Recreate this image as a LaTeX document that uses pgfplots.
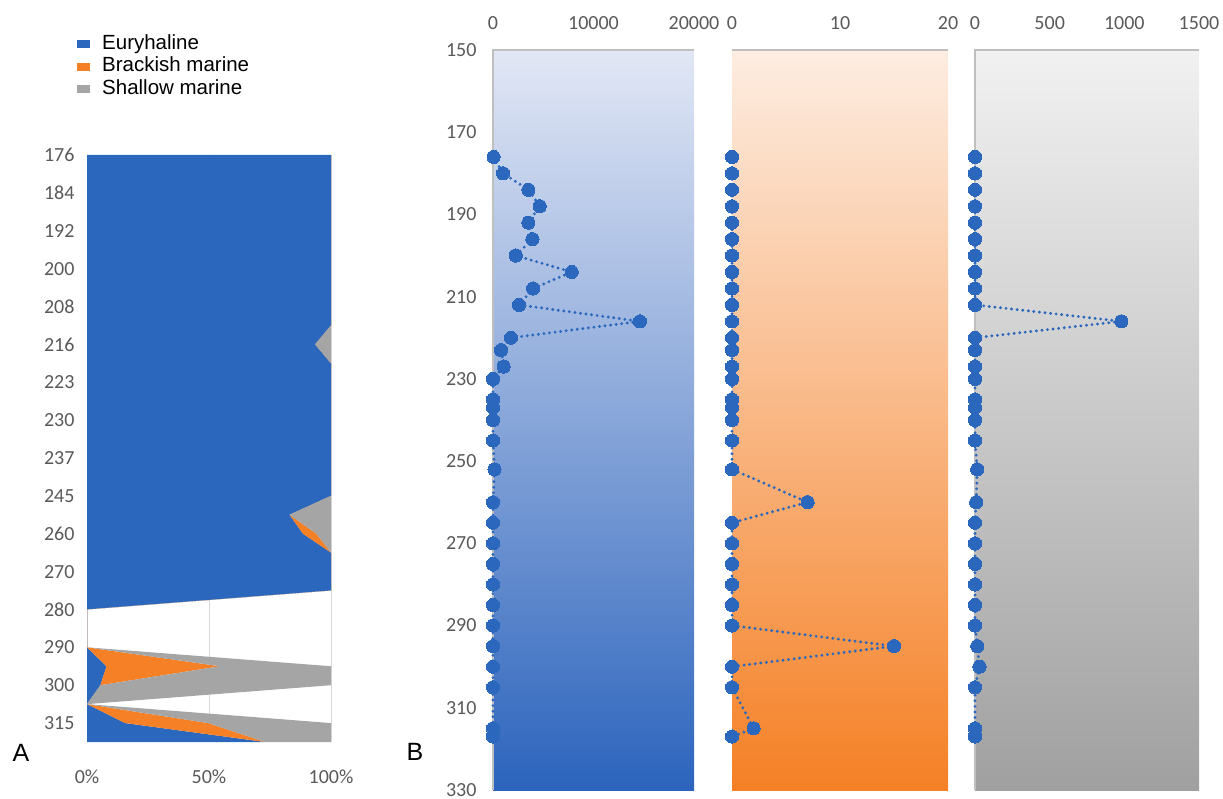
\documentclass[border=0pt]{standalone}
\usepackage{fontspec}
\setmainfont{Carlito}
\newfontfamily\arial{Liberation Sans}
\usepackage{pgfplots}
\usepackage{pgfplotstable}
\pgfplotsset{compat=1.18}
\definecolor{eblue}{RGB}{42,103,189}
\definecolor{eorange}{RGB}{245,128,37}
\definecolor{egray}{RGB}{165,165,165}
\definecolor{tickgray}{RGB}{89,89,89}
\definecolor{linegray}{RGB}{191,191,191}
\definecolor{gridgray}{RGB}{217,217,217}

\pgfplotstableread{
depth eury brack shallow
176 60 0 0
180 1000 0 0
184 3520 0 0
188 4650 0 0
192 3520 0 0
196 3920 0 0
200 2260 0 0
204 7840 0 0
208 3990 0 0
212 2590 0 0
216 14620 0 980
220 1790 0 0
223 800 0 0
227 1060 0 0
230 0 0 0
235 0 0 0
237 0 0 0
240 0 0 0
245 0 0 0
252 150 0 15
260 0 7 8
265 0 0 0
270 0 0 0
275 0 0 0
280 0 0 0
285 0 0 0
290 0 0 0
295 0 15 15
300 0 0 30
305 0 0 0
315 0 2 0
317 0 0 0
}\countdata

\pgfplotsset{
  tickfont/.style={ticklabel style={font=\fontsize{20}{22}\selectfont, text=tickgray}},
  panelB/.style={scale only axis, height=740pt, y dir=reverse,
    ymin=150, ymax=330, ytick={150,170,...,330}, xmin=0,
    axis line style={draw=none}, major tick length=0pt,
    xticklabel pos=right, clip=false, tickfont,
    scaled x ticks=false,
    /pgf/number format/assume math mode=true,
    xticklabel style={yshift=17pt},
    yticklabel style={xshift=-13pt}},
  series/.style={color=eblue, line width=3.2pt, dash pattern=on 0pt off 5.6pt, line cap=round,
    mark=*, mark size=6.6pt, mark options={solid, fill=eblue, draw=eblue, line width=0pt}},
}

\begin{document}
\begin{tikzpicture}
\useasboundingbox (0pt,0pt) rectangle (1223pt,799pt);

% Panel A: 100% stacked areas (x = cumulative percent, y = sample index 0..31)
\begin{axis}[at={(87pt,57pt)}, anchor=south west, scale only axis,
  width=244pt, height=587pt, xmin=0, xmax=100, ymin=0, ymax=31,
  y dir=reverse,
  axis line style={draw=none}, major tick length=0pt,
  xtick={0,50,100}, xticklabels={0\%,50\%,100\%}, xticklabel pos=left,
  ytick={0,2,...,30},
  yticklabels={176,184,192,200,208,216,223,230,237,245,260,270,280,290,300,315},
  xmajorgrids, grid style={gridgray, line width=1pt},
  tickfont,
  xticklabel style={yshift=-24pt},
  yticklabel style={xshift=-9pt},
  legend style={at={(axis description cs:-0.041,1.206)}, anchor=north west,
    draw=none, fill=none, inner sep=0pt, row sep=2.5pt,
    font=\arial\fontsize{20.5}{22}\selectfont,
    nodes={inner sep=0pt, text height=15pt, text depth=5pt},
    /tikz/every odd column/.append style={column sep=12pt}},
  legend cell align=left,
  legend image code/.code={\fill[#1] (0pt,-4pt) rectangle (13pt,4pt);},
]
% Euryhaline: from 0 to c1
\addplot[fill=eblue, draw=none] coordinates {
(100,0)(100,1)(100,2)(100,3)(100,4)(100,5)(100,6)(100,7)(100,8)(100,9)
(93.5,10)(100,11)(100,12)(100,13)(100,14)(100,15)(100,16)(100,17)(100,18)
(83,19)(88.5,20)(100,21)(100,22)(100,23)(0,24)(0,25)(0,26)(8,27)(5.5,28)(0,29)(15.6,30)(73,31)
(0,31)(0,0)} -- cycle;
\addlegendentry{Euryhaline}
% Brackish marine: from c1 to c2
\addplot[fill=eorange, draw=none] coordinates {
(100,0)(100,1)(100,2)(100,3)(100,4)(100,5)(100,6)(100,7)(100,8)(100,9)
(93.5,10)(100,11)(100,12)(100,13)(100,14)(100,15)(100,16)(100,17)(100,18)
(83,19)(94,20)(100,21)(100,22)(100,23)(0,24)(0,25)(0,26)(54.5,27)(5.5,28)(0,29)(49.6,30)(73,31)
(73,31)(15.6,30)(0,29)(5.5,28)(8,27)(0,26)(0,25)(0,24)(100,23)(100,22)(100,21)(88.5,20)(83,19)
(100,18)(100,17)(100,16)(100,15)(100,14)(100,13)(100,12)(100,11)(93.5,10)
(100,9)(100,8)(100,7)(100,6)(100,5)(100,4)(100,3)(100,2)(100,1)(100,0)} -- cycle;
\addlegendentry{Brackish marine}
% Shallow marine: from c2 to c3
\addplot[fill=egray, draw=none] coordinates {
(100,0)(100,1)(100,2)(100,3)(100,4)(100,5)(100,6)(100,7)(100,8)(100,9)
(100,10)(100,11)(100,12)(100,13)(100,14)(100,15)(100,16)(100,17)(100,18)
(100,19)(100,20)(100,21)(100,22)(100,23)(0,24)(0,25)(0,26)(100,27)(100,28)(0,29)(100,30)(100,31)
(73,31)(49.6,30)(0,29)(5.5,28)(54.5,27)(0,26)(0,25)(0,24)(100,23)(100,22)(100,21)(94,20)(83,19)
(100,18)(100,17)(100,16)(100,15)(100,14)(100,13)(100,12)(100,11)(93.5,10)
(100,9)(100,8)(100,7)(100,6)(100,5)(100,4)(100,3)(100,2)(100,1)(100,0)} -- cycle;
\addlegendentry{Shallow marine}
\end{axis}

% Panel B1
\begin{axis}[panelB, at={(493pt,9pt)}, anchor=south west, width=201pt,
  xmax=20000, xtick={0,10000,20000}, xticklabels={0,10000,20000},
  axis background/.style={top color={rgb,255:red,226;green,231;blue,245}, bottom color={rgb,255:red,44;green,100;blue,189}}]
\draw[linegray, line width=1.5pt] (axis cs:0,330) -- (axis cs:0,150) -- (axis cs:20000,150);
\addplot[series] table[x=eury, y=depth] {\countdata};
\end{axis}

% Panel B2
\begin{axis}[panelB, at={(732pt,9pt)}, anchor=south west, width=216pt,
  xmax=20, xtick={0,10,20}, xticklabels={0,10,20}, yticklabels={},
  axis background/.style={top color={rgb,255:red,253;green,237;blue,226}, bottom color={rgb,255:red,245;green,128;blue,37}}]
\draw[linegray, line width=1.5pt] (axis cs:0,150) -- (axis cs:20,150);
\addplot[series] table[x=brack, y=depth] {\countdata};
\end{axis}

% Panel B3
\begin{axis}[panelB, at={(975pt,9pt)}, anchor=south west, width=224pt,
  xmax=1500, xtick={0,500,1000,1500}, xticklabels={0,500,1000,1500}, yticklabels={},
  axis background/.style={top color={rgb,255:red,241;green,241;blue,241}, bottom color={rgb,255:red,160;green,160;blue,160}}]
\draw[linegray, line width=1.5pt] (axis cs:0,330) -- (axis cs:0,150) -- (axis cs:1500,150);
\addplot[series] table[x=shallow, y=depth] {\countdata};
\end{axis}

\node[font=\arial\fontsize{25}{25}\selectfont] at (21pt,46pt) {A};
\node[font=\arial\fontsize{25}{25}\selectfont] at (415pt,47pt) {B};
\end{tikzpicture}
\end{document}
